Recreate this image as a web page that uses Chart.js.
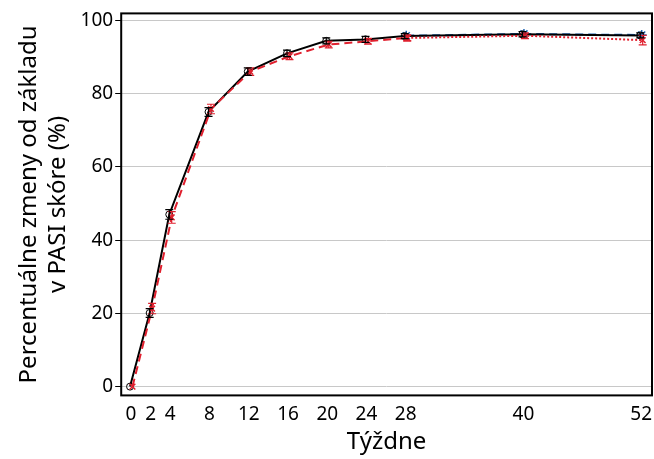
<!DOCTYPE html>
<html>
<head>
<meta charset="utf-8">
<script src="https://cdn.jsdelivr.net/npm/chart.js@4"></script>
<style>
  html, body { margin: 0; padding: 0; background: #fff; }
  #wrap { width: 654px; height: 459px; }
</style>
</head>
<body>
<div id="wrap"><canvas id="pasiChart" width="654" height="459"></canvas></div>
<script>
// weeks on the x axis
const weeks = [0, 2, 4, 8, 12, 16, 20, 24, 28, 40, 52];
const xTicks = [0, 2, 4, 8, 12, 16, 20, 24, 28, 40, 52];
const yTicks = [0, 20, 40, 60, 80, 100];

// black solid series
const blackVals = [0, 20.1, 47.0, 75.0, 86.0, 91.0, 94.4, 94.8, 95.7, 96.2, 95.9];
const blackErr  = [0, 1.2, 1.3, 1.2, 1.0, 0.9, 0.8, 0.8, 0.7, 0.7, 0.7];

// red dashed series, weeks 0..28
const redWeeks = [0, 2, 4, 8, 12, 16, 20, 24, 28];
const redVals  = [0, 21.3, 46.2, 75.8, 86.0, 90.2, 93.4, 94.3, 95.2];
const redErr   = [0, 1.4, 1.6, 1.3, 1.0, 0.9, 0.9, 0.8, 0.8];

// red dotted continuation
const redDotWeeks = [28, 40, 52];
const redDotVals  = [95.2, 95.8, 94.6];
const redDotErr   = [0.8, 0.8, 1.3];

// blue dashed series
const blueWeeks = [28, 40, 52];
const blueVals  = [95.8, 96.3, 96.0];

const FONT = "'Noto Sans', 'Open Sans', sans-serif";
const RED = '#e0202e';
const BLUE = '#1f64b4';

function pts(xs, ys, shift) {
    return xs.map((w, i) => ({ x: w + shift, y: ys[i] }));
}

// error bars + frame around plot area
const extrasPlugin = {
    id: 'extras',
    afterDatasetsDraw(chart) {
        const ctx = chart.ctx;
        const xs = chart.scales.x, ys = chart.scales.y;
        chart.data.datasets.forEach(ds => {
            if (!ds.err) return;
            ctx.save();
            ctx.strokeStyle = ds.borderColor;
            ctx.lineWidth = 1.2;
            ctx.setLineDash([]);
            ds.data.forEach((p, i) => {
                const e = ds.err[i];
                if (!e) return;
                const px = xs.getPixelForValue(p.x);
                const top = ys.getPixelForValue(p.y + e);
                const bot = ys.getPixelForValue(p.y - e);
                ctx.beginPath();
                ctx.moveTo(px, top); ctx.lineTo(px, bot);
                ctx.moveTo(px - 4, top); ctx.lineTo(px + 4, top);
                ctx.moveTo(px - 4, bot); ctx.lineTo(px + 4, bot);
                ctx.stroke();
            });
            ctx.restore();
        });
    },
    afterDraw(chart) {
        const a = chart.chartArea;
        const ctx = chart.ctx;
        ctx.save();
        ctx.strokeStyle = '#000';
        ctx.lineWidth = 2;
        ctx.strokeRect(a.left, a.top, a.right - a.left, a.bottom - a.top);
        ctx.restore();
    }
};

const ctx = document.getElementById('pasiChart').getContext('2d');

new Chart(ctx, {
    type: 'line',
    data: {
        datasets: [
            {
                label: 'red dashed',
                data: pts(redWeeks, redVals, 0.15),
                err: redErr,
                borderColor: RED,
                borderWidth: 2,
                borderDash: [8, 5],
                pointStyle: 'crossRot',
                pointRadius: 4,
                pointBorderColor: RED,
                pointBorderWidth: 1.5,
                fill: false,
                order: 0
            },
            {
                label: 'red dotted',
                data: pts(redDotWeeks, redDotVals, 0.15),
                err: redDotErr,
                borderColor: RED,
                borderWidth: 2,
                borderDash: [2, 2],
                pointStyle: 'crossRot',
                pointRadius: 4,
                pointBorderColor: RED,
                pointBorderWidth: 1.5,
                fill: false,
                order: 0
            },
            {
                label: 'black',
                data: pts(weeks, blackVals, -0.1),
                err: blackErr,
                borderColor: '#000',
                borderWidth: 2,
                pointStyle: 'circle',
                pointRadius: 3.5,
                pointBackgroundColor: 'rgba(0,0,0,0)',
                pointBorderColor: '#000',
                pointBorderWidth: 1,
                fill: false,
                order: 1
            },
            {
                label: 'blue',
                data: pts(blueWeeks, blueVals, 0.05),
                borderColor: BLUE,
                borderWidth: 2,
                borderDash: [8, 5],
                pointStyle: 'star',
                pointRadius: 5,
                pointBorderColor: BLUE,
                pointBorderWidth: 1.5,
                fill: false,
                order: 2
            }
        ]
    },
    options: {
        responsive: false,
        animation: false,
        layout: { autoPadding: false, padding: { top: 11, right: 2, left: 15, bottom: 2 } },
        plugins: {
            legend: { display: false },
            tooltip: { enabled: false }
        },
        scales: {
            x: {
                type: 'linear',
                min: -1,
                max: 53.1,
                afterBuildTicks: axis => { axis.ticks = xTicks.map(v => ({ value: v })); },
                // let the last tick label reach the frame edge
                afterFit: axis => { axis.paddingRight = 0; },
                grid: { display: false, drawOnChartArea: false, drawTicks: true, tickLength: 6, color: '#000' },
                border: { display: false },
                ticks: { color: '#000', font: { family: FONT, size: 19 }, maxRotation: 0, autoSkip: false, padding: 2 },
                title: { display: true, text: 'Týždne', color: '#000', font: { family: FONT, size: 24 }, padding: { top: 0, bottom: 0 } }
            },
            y: {
                min: -2.4,
                max: 101.9,
                afterBuildTicks: axis => { axis.ticks = yTicks.map(v => ({ value: v })); },
                grid: { color: '#c8c8c8', lineWidth: 1, tickColor: '#000', tickLength: 6, drawTicks: true },
                border: { display: false },
                ticks: { color: '#000', font: { family: FONT, size: 19 }, padding: 2 },
                title: {
                    display: true,
                    text: ['Percentuálne zmeny od základu', 'v PASI skóre (%)'],
                    color: '#000',
                    font: { family: FONT, size: 24 },
                    padding: { top: 0, bottom: 6 }
                }
            }
        }
    },
    plugins: [extrasPlugin]
});
</script>
</body>
</html>
